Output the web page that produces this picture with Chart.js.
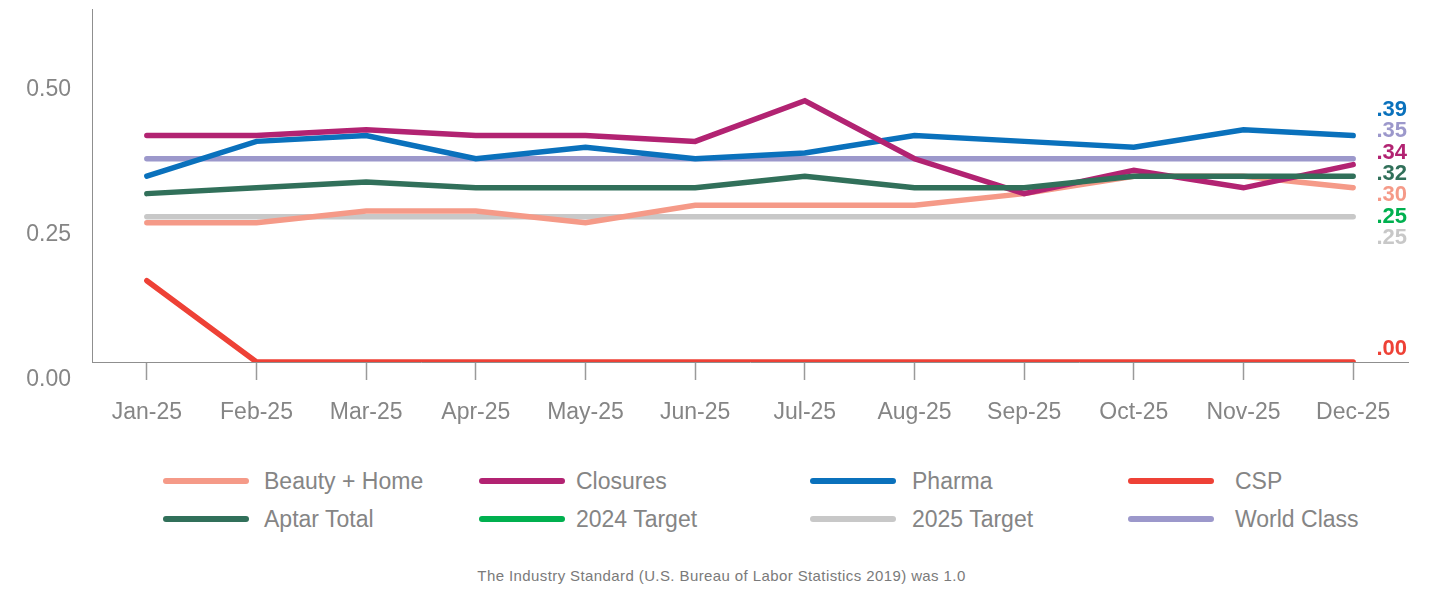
<!DOCTYPE html>
<html>
<head>
<meta charset="utf-8">
<title>Monthly rate by segment, 2025</title>
<script src="https://cdn.jsdelivr.net/npm/chart.js@4/dist/chart.umd.min.js"></script>
<style>
  html, body { margin: 0; padding: 0; background: #ffffff; }
  body { width: 1443px; height: 591px; position: relative; overflow: hidden;
         font-family: "Liberation Sans", Arial, Helvetica, sans-serif; }
  #chart { position: absolute; left: 0; top: 0; }
  .legend-item { position: absolute; height: 30px; display: flex; align-items: center;
                 color: #858585; font-size: 23px; white-space: nowrap; }
  .legend-item .swatch { width: 86px; height: 6px; border-radius: 3px; }
  .legend-item .text { position: absolute; top: 50%; transform: translateY(-50%); }
  #note { position: absolute; left: 0; width: 1443px; top: 567px; text-align: center;
          color: #7a7a7a; font-size: 15px; letter-spacing: 0.4px; }
</style>
</head>
<body>
<canvas id="chart" width="1443" height="440"></canvas>
<div id="legend"></div>
<div id="note">The Industry Standard (U.S. Bureau of Labor Statistics 2019) was 1.0</div>
<script>
// Months on the x axis
const months = ['Jan-25', 'Feb-25', 'Mar-25', 'Apr-25', 'May-25', 'Jun-25',
                'Jul-25', 'Aug-25', 'Sep-25', 'Oct-25', 'Nov-25', 'Dec-25'];

// Monthly values per series
const beautyHome = [0.24, 0.24, 0.26, 0.26, 0.24, 0.27, 0.27, 0.27, 0.29, 0.32, 0.32, 0.30];
const closures   = [0.39, 0.39, 0.40, 0.39, 0.39, 0.38, 0.45, 0.35, 0.29, 0.33, 0.30, 0.34];
const pharma     = [0.32, 0.38, 0.39, 0.35, 0.37, 0.35, 0.36, 0.39, 0.38, 0.37, 0.40, 0.39];
const csp        = [0.14, 0.00, 0.00, 0.00, 0.00, 0.00, 0.00, 0.00, 0.00, 0.00, 0.00, 0.00];
const aptarTotal = [0.29, 0.30, 0.31, 0.30, 0.30, 0.30, 0.32, 0.30, 0.30, 0.32, 0.32, 0.32];
const target2024 = [0.25, 0.25, 0.25, 0.25, 0.25, 0.25, 0.25, 0.25, 0.25, 0.25, 0.25, 0.25];
const target2025 = [0.25, 0.25, 0.25, 0.25, 0.25, 0.25, 0.25, 0.25, 0.25, 0.25, 0.25, 0.25];
const worldClass = [0.35, 0.35, 0.35, 0.35, 0.35, 0.35, 0.35, 0.35, 0.35, 0.35, 0.35, 0.35];

// Y axis tick values
const yTicks = [0.00, 0.25, 0.50];

const GREY = '#858585';
const FONT = '"Liberation Sans", Arial, Helvetica, sans-serif';

function series(label, data, color, order, width) {
  return {
    label, data, order,
    borderColor: color, backgroundColor: color,
    borderWidth: width || 5.5, pointRadius: 0, pointHoverRadius: 0,
    tension: 0, borderCapStyle: 'round', borderJoinStyle: 'miter', fill: false
  };
}

// Legend order; "order" sets stacking (lower draws on top)
const datasets = [
  series('Beauty + Home', beautyHome, '#F59A88', 4),
  series('Closures',      closures,   '#B22372', 2),
  series('Pharma',        pharma,     '#0A71BC', 3),
  series('CSP',           csp,        '#EE4136', 8),
  series('Aptar Total',   aptarTotal, '#31705A', 1),
  series('2024 Target',   target2024, '#00B04F', 7, 4),
  series('2025 Target',   target2025, '#C8C8C8', 6),
  series('World Class',   worldClass, '#9C98CB', 5)
];

// Year-end value labels stacked at the right edge, in this order
const endLabelStack = ['Pharma', 'World Class', 'Closures', 'Aptar Total',
                       'Beauty + Home', '2024 Target', '2025 Target'];

const endLabels = {
  id: 'endLabels',
  afterDatasetsDraw(chart) {
    const ctx = chart.ctx;
    const yScale = chart.scales.y;
    const right = chart.chartArea.right - 1;
    const fmt = v => v.toFixed(2).replace(/^0/, '');
    ctx.save();
    ctx.font = 'bold 22px ' + FONT;
    ctx.textAlign = 'right';
    ctx.textBaseline = 'middle';
    const topY = 110, step = 21.3;
    chart.data.datasets.forEach(ds => {
      const last = ds.data[ds.data.length - 1];
      const idx = endLabelStack.indexOf(ds.label);
      const y = idx >= 0 ? topY + idx * step : yScale.getPixelForValue(last) - 13;
      ctx.fillStyle = ds.borderColor;
      ctx.fillText(fmt(last), right, y);
    });
    ctx.restore();
  }
};

const chart = new Chart(document.getElementById('chart'), {
  type: 'line',
  data: { labels: months, datasets },
  plugins: [endLabels],
  options: {
    responsive: false,
    devicePixelRatio: 1,
    animation: false,
    layout: { autoPadding: false, padding: { top: 9, right: 35, left: 0, bottom: 0 } },
    plugins: { legend: { display: false }, tooltip: { enabled: false } },
    scales: {
      x: {
        offset: true,
        afterFit(scale) { scale.height = 78; scale.paddingLeft = 0; scale.paddingRight = 0; },
        grid: { offset: false, drawOnChartArea: false, drawTicks: true,
                tickLength: 18, tickColor: '#9a9a9a', tickWidth: 1.5 },
        border: { display: true, color: '#8f8f8f', width: 1 },
        ticks: { color: GREY, font: { family: FONT, size: 23 }, padding: 19,
                 maxRotation: 0, autoSkip: false }
      },
      y: {
        min: 0, max: 0.608,
        afterFit(scale) { scale.width = 92; scale.paddingTop = 0; scale.paddingBottom = 0; },
        afterBuildTicks(scale) { scale.ticks = yTicks.map(v => ({ value: v })); },
        grid: { display: true, drawOnChartArea: false, drawTicks: false },
        border: { display: true, color: '#8f8f8f', width: 1 },
        ticks: { color: GREY, font: { family: FONT, size: 23 }, padding: 21,
                 labelOffset: 18, callback: v => Number(v).toFixed(2) }
      }
    }
  }
});

// HTML legend built from the chart's datasets, four columns by two rows
const legendCols = [
  { line: 163, text: 264 },
  { line: 479, text: 576 },
  { line: 810, text: 912 },
  { line: 1128, text: 1235 }
];
const legendRows = [481, 519];
const legendEl = document.getElementById('legend');
chart.data.datasets.forEach((ds, i) => {
  const col = legendCols[i % 4];
  const rowY = legendRows[Math.floor(i / 4)];
  const item = document.createElement('div');
  item.className = 'legend-item';
  item.style.left = col.line + 'px';
  item.style.top = (rowY - 15) + 'px';
  const sw = document.createElement('span');
  sw.className = 'swatch';
  sw.style.background = ds.borderColor;
  const tx = document.createElement('span');
  tx.className = 'text';
  tx.style.left = (col.text - col.line) + 'px';
  tx.textContent = ds.label;
  item.appendChild(sw);
  item.appendChild(tx);
  legendEl.appendChild(item);
});
</script>
</body>
</html>
